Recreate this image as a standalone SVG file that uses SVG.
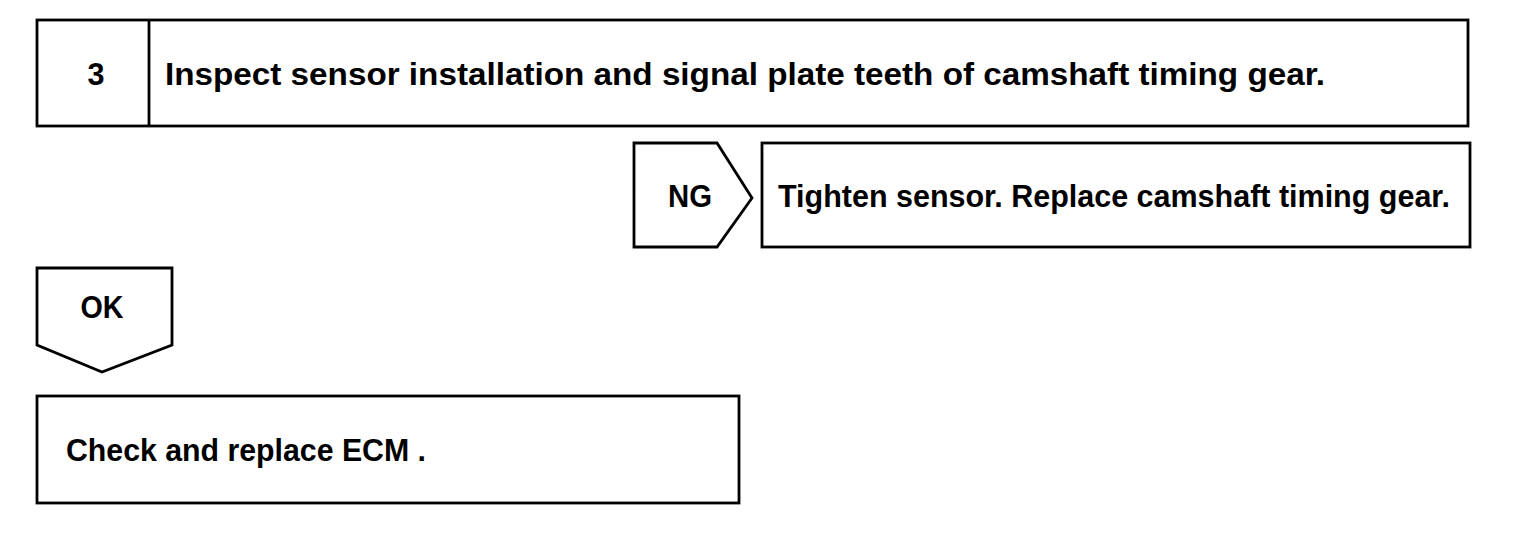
<svg xmlns="http://www.w3.org/2000/svg" width="1520" height="538" viewBox="0 0 1520 538">
<style>
.box{fill:#fff;stroke:#000;stroke-width:2.8;stroke-linejoin:miter}
.t{font-family:"Liberation Sans",Arial,sans-serif;font-weight:bold;font-size:32px;fill:#000}
</style>
<rect width="1520" height="538" fill="#fff"/>
<g id="step3">
<rect class="box" x="37" y="20" width="1431" height="106"/>
<line class="box" x1="149" y1="20" x2="149" y2="126"/>
<text class="t" x="96" y="85" text-anchor="middle" textLength="17" lengthAdjust="spacingAndGlyphs">3</text>
<text class="t" x="165" y="85" textLength="1160" lengthAdjust="spacingAndGlyphs">Inspect sensor installation and signal plate teeth of camshaft timing gear.</text>
</g>
<g id="connectors">
<g id="ng">
<polygon class="box" points="634,143 717,143 752,198 717,247 634,247"/>
<text class="t" x="690" y="207" text-anchor="middle" textLength="44" lengthAdjust="spacingAndGlyphs">NG</text>
</g>
<g id="ok">
<polygon class="box" points="37,268 172,268 172,345 102,372 37,345"/>
<text class="t" x="102" y="318" text-anchor="middle" textLength="43" lengthAdjust="spacingAndGlyphs">OK</text>
</g>
</g>
<g id="ngAction">
<rect class="box" x="762" y="143" width="708" height="104"/>
<text class="t" x="778" y="207" textLength="672" lengthAdjust="spacingAndGlyphs">Tighten sensor. Replace camshaft timing gear.</text>
</g>
<g id="okAction">
<rect class="box" x="37" y="396" width="702" height="107"/>
<text class="t" x="66" y="461" textLength="360" lengthAdjust="spacingAndGlyphs">Check and replace ECM .</text>
</g>
</svg>
